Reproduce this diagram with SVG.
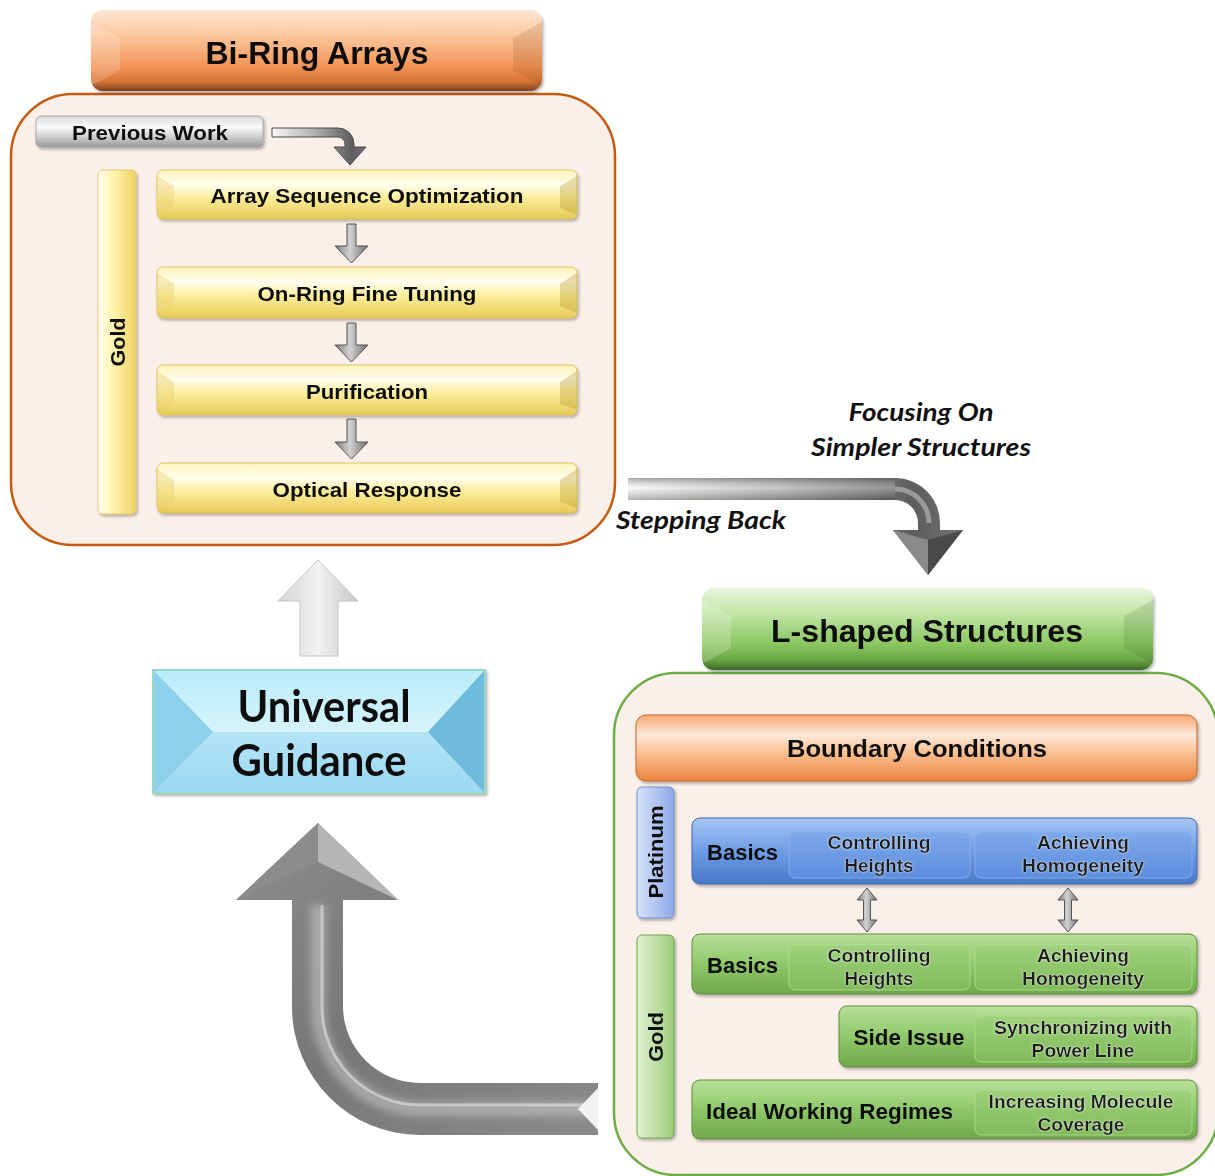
<svg xmlns="http://www.w3.org/2000/svg" width="1215" height="1176" viewBox="0 0 1215 1176">
<defs>
<style>
.t{font-family:"Liberation Sans",Arial,sans-serif;font-weight:bold;fill:#111}
.c{text-anchor:middle}
.it{font-family:Lato,"Open Sans",sans-serif;font-weight:bold;font-style:italic;fill:#111}
.big{font-family:Lato,"Open Sans",sans-serif;font-weight:bold;fill:#111}
.sub{font-family:"Liberation Sans",Arial,sans-serif;font-weight:bold;fill:#1a1a1a;text-anchor:middle}
</style>
<filter id="sh" x="-10%" y="-10%" width="120%" height="130%">
<feDropShadow dx="1.5" dy="2" stdDeviation="1.5" flood-color="#000" flood-opacity="0.3"/>
</filter>
<filter id="glow" x="-10%" y="-20%" width="120%" height="140%">
<feDropShadow dx="0" dy="0" stdDeviation="1.2" flood-color="#fff" flood-opacity="0.8"/>
</filter>
<filter id="blur4" x="-20%" y="-20%" width="140%" height="140%">
<feGaussianBlur stdDeviation="4"/>
</filter>
<linearGradient id="gYel" x1="0" y1="0" x2="0" y2="1">
<stop offset="0" stop-color="#fff3b8"/><stop offset="0.3" stop-color="#fffdf0"/><stop offset="0.55" stop-color="#fcef9f"/><stop offset="1" stop-color="#e6ca55"/>
</linearGradient>
<linearGradient id="gYelBar" x1="0" y1="0" x2="1" y2="0">
<stop offset="0" stop-color="#fffdf0"/><stop offset="0.45" stop-color="#fff2a6"/><stop offset="1" stop-color="#ecd162"/>
</linearGradient>
<linearGradient id="gOrH" x1="0" y1="0" x2="0" y2="1">
<stop offset="0" stop-color="#fde6d2"/><stop offset="0.3" stop-color="#fbc9a0"/><stop offset="0.7" stop-color="#f29456"/><stop offset="0.88" stop-color="#d77537"/><stop offset="1" stop-color="#7d4220"/>
</linearGradient>
<linearGradient id="gOrB" x1="0" y1="0" x2="0" y2="1">
<stop offset="0" stop-color="#f7a870"/><stop offset="0.3" stop-color="#fde9da"/><stop offset="0.55" stop-color="#fbc396"/><stop offset="1" stop-color="#ea843e"/>
</linearGradient>
<linearGradient id="gGrH" x1="0" y1="0" x2="0" y2="1">
<stop offset="0" stop-color="#e8f6de"/><stop offset="0.3" stop-color="#c1e6a6"/><stop offset="0.7" stop-color="#88c55e"/><stop offset="0.88" stop-color="#6aa545"/><stop offset="1" stop-color="#3a6824"/>
</linearGradient>
<linearGradient id="gGr" x1="0" y1="0" x2="0" y2="1">
<stop offset="0" stop-color="#b8e09a"/><stop offset="0.5" stop-color="#8fc86a"/><stop offset="1" stop-color="#6ea84a"/>
</linearGradient>
<linearGradient id="gGrSub" x1="0" y1="0" x2="0" y2="1">
<stop offset="0" stop-color="#9fd27c"/><stop offset="1" stop-color="#80ba5a"/>
</linearGradient>
<linearGradient id="gGrBar" x1="0" y1="0" x2="1" y2="0">
<stop offset="0" stop-color="#e0f2d2"/><stop offset="1" stop-color="#9dcc7c"/>
</linearGradient>
<linearGradient id="gBl" x1="0" y1="0" x2="0" y2="1">
<stop offset="0" stop-color="#a9c5f2"/><stop offset="0.5" stop-color="#6d9de6"/><stop offset="1" stop-color="#4a78c8"/>
</linearGradient>
<linearGradient id="gBlSub" x1="0" y1="0" x2="0" y2="1">
<stop offset="0" stop-color="#7eaaeb"/><stop offset="1" stop-color="#5c8ddd"/>
</linearGradient>
<linearGradient id="gPlBar" x1="0" y1="0" x2="1" y2="0">
<stop offset="0" stop-color="#d6e2fa"/><stop offset="1" stop-color="#8eaae6"/>
</linearGradient>
<linearGradient id="gGray" x1="0" y1="0" x2="0" y2="1">
<stop offset="0" stop-color="#d8d8d8"/><stop offset="0.35" stop-color="#fafafa"/><stop offset="0.6" stop-color="#d9d9d9"/><stop offset="1" stop-color="#9a9a9a"/>
</linearGradient>
<linearGradient id="gArrH" x1="0" y1="0" x2="1" y2="0">
<stop offset="0" stop-color="#f7f7f7"/><stop offset="0.45" stop-color="#b0b0b0"/><stop offset="0.85" stop-color="#5e5e5e"/><stop offset="1" stop-color="#707070"/>
</linearGradient>
<linearGradient id="gArrV" x1="0" y1="0" x2="0" y2="1">
<stop offset="0" stop-color="#555"/><stop offset="0.45" stop-color="#ffffff" stop-opacity="0.55"/><stop offset="1" stop-color="#333" stop-opacity="0.7"/>
</linearGradient>
<linearGradient id="gSmall" x1="0" y1="0" x2="1" y2="0">
<stop offset="0" stop-color="#7a7a7a"/><stop offset="0.45" stop-color="#d2d2d2"/><stop offset="1" stop-color="#6e6e6e"/>
</linearGradient>
<linearGradient id="gLight" x1="0" y1="0" x2="1" y2="0">
<stop offset="0" stop-color="#d4d4d4"/><stop offset="0.5" stop-color="#f2f2f2"/><stop offset="1" stop-color="#c6c6c6"/>
</linearGradient>
<linearGradient id="gBig" x1="0" y1="0" x2="1" y2="1">
<stop offset="0" stop-color="#8e8e8e"/><stop offset="0.5" stop-color="#777"/><stop offset="1" stop-color="#8a8a8a"/>
</linearGradient>
<linearGradient id="gUGtop" x1="0" y1="0" x2="0" y2="1">
<stop offset="0" stop-color="#b9ecfa"/><stop offset="1" stop-color="#d6f4fc"/>
</linearGradient>
<linearGradient id="gUGbot" x1="0" y1="0" x2="0" y2="1">
<stop offset="0" stop-color="#b4e5f7"/><stop offset="1" stop-color="#9ad8f1"/>
</linearGradient>
</defs>

<rect width="1215" height="1176" fill="#ffffff"/>

<!-- Bi-Ring Arrays container -->
<g id="biring-container">
<rect x="11" y="94" width="604" height="451" rx="62" fill="#fbefe9" stroke="#c55a11" stroke-width="2.5"/>
</g>
<g id="biring-header" filter="url(#sh)">
<rect x="91" y="10" width="451" height="81" rx="12" fill="url(#gOrH)"/>
<path d="M91,22 L120,38 L120,70 L91,86Z" fill="#fff" opacity="0.18"/>
<path d="M542,22 L513,38 L513,70 L542,86Z" fill="#7a3a10" opacity="0.15"/>
<text class="t c" x="317" y="64" font-size="31" textLength="223" lengthAdjust="spacingAndGlyphs">Bi-Ring Arrays</text>
</g>
<g id="previous-work" filter="url(#sh)">
<rect x="36" y="116" width="227" height="31" rx="5" fill="url(#gGray)" stroke="#9a9a9a" stroke-width="0.8"/>
<text class="t c" x="150" y="140" font-size="20" textLength="156" lengthAdjust="spacingAndGlyphs">Previous Work</text>
</g>
<g id="gold-bar-1" filter="url(#sh)">
<rect x="98" y="170" width="38" height="344" rx="5" fill="url(#gYelBar)" stroke="#e2c75a" stroke-width="0.8"/>
<text class="t c" transform="translate(118,342) rotate(-90)" y="7" font-size="20" textLength="49" lengthAdjust="spacingAndGlyphs">Gold</text>
</g>
<g id="array-seq" filter="url(#sh)">
<rect x="157" y="170" width="420" height="49" rx="6" fill="url(#gYel)" stroke="#d6bc52" stroke-width="0.8"/>
<path d="M157,176 L174,186 L174,208 L157,215Z" fill="#e8d070" opacity="0.45"/>
<path d="M577,176 L560,186 L560,208 L577,215Z" fill="#b89a2a" opacity="0.35"/>
<text class="t c" x="367" y="203" font-size="21" textLength="313" lengthAdjust="spacingAndGlyphs">Array Sequence Optimization</text>
</g>
<g id="on-ring" filter="url(#sh)">
<rect x="157" y="267" width="420" height="51" rx="6" fill="url(#gYel)" stroke="#d6bc52" stroke-width="0.8"/>
<path d="M157,273 L174,284 L174,306 L157,313Z" fill="#e8d070" opacity="0.45"/>
<path d="M577,273 L560,284 L560,306 L577,313Z" fill="#b89a2a" opacity="0.35"/>
<text class="t c" x="367" y="301" font-size="21" textLength="219" lengthAdjust="spacingAndGlyphs">On-Ring Fine Tuning</text>
</g>
<g id="purification" filter="url(#sh)">
<rect x="157" y="365" width="420" height="50" rx="6" fill="url(#gYel)" stroke="#d6bc52" stroke-width="0.8"/>
<path d="M157,371 L174,382 L174,404 L157,410Z" fill="#e8d070" opacity="0.45"/>
<path d="M577,371 L560,382 L560,404 L577,410Z" fill="#b89a2a" opacity="0.35"/>
<text class="t c" x="367" y="399" font-size="21" textLength="122" lengthAdjust="spacingAndGlyphs">Purification</text>
</g>
<g id="optical" filter="url(#sh)">
<rect x="157" y="463" width="420" height="50" rx="6" fill="url(#gYel)" stroke="#d6bc52" stroke-width="0.8"/>
<path d="M157,469 L174,480 L174,502 L157,508Z" fill="#e8d070" opacity="0.45"/>
<path d="M577,469 L560,480 L560,502 L577,508Z" fill="#b89a2a" opacity="0.35"/>
<text class="t c" x="367" y="497" font-size="21" textLength="189" lengthAdjust="spacingAndGlyphs">Optical Response</text>
</g>

<!-- labels -->
<g id="labels">
<text class="it c" x="921" y="421" font-size="25" textLength="145" lengthAdjust="spacingAndGlyphs">Focusing On</text>
<text class="it c" x="921" y="456" font-size="25" textLength="220" lengthAdjust="spacingAndGlyphs">Simpler Structures</text>
<text class="it" x="616" y="529" font-size="25" textLength="170" lengthAdjust="spacingAndGlyphs">Stepping Back</text>
</g>

<!-- Universal Guidance -->
<g id="universal-guidance" filter="url(#sh)">
<rect x="153" y="670" width="332" height="123" fill="#aee3f5" stroke="#98d6c6" stroke-width="2"/>
<path d="M154,671 L484,671 L428,732 L213,732Z" fill="url(#gUGtop)"/>
<path d="M154,792 L213,732 L428,732 L484,792Z" fill="url(#gUGbot)"/>
<path d="M154,671 L213,732 L154,792Z" fill="#8ed0ea"/>
<path d="M484,671 L428,732 L484,792Z" fill="#6ebbdc"/>
<text class="big c" x="324" y="722" font-size="44" textLength="173" lengthAdjust="spacingAndGlyphs">Universal</text>
<text class="big c" x="319" y="776" font-size="44" textLength="175" lengthAdjust="spacingAndGlyphs">Guidance</text>
</g>

<!-- L-shaped container -->
<g id="lshaped-container">
<rect x="614" y="673" width="604" height="502" rx="62" fill="#fbefe9" stroke="#70ad47" stroke-width="2.5"/>
</g>
<g id="lshaped-header" filter="url(#sh)">
<rect x="702" y="588" width="451" height="82" rx="12" fill="url(#gGrH)"/>
<path d="M702,600 L731,616 L731,648 L702,664Z" fill="#fff" opacity="0.2"/>
<path d="M1153,600 L1124,616 L1124,648 L1153,664Z" fill="#2f5a1a" opacity="0.15"/>
<text class="t c" x="927" y="642" font-size="31" textLength="312" lengthAdjust="spacingAndGlyphs">L-shaped Structures</text>
</g>
<g id="boundary-conditions" filter="url(#sh)">
<rect x="636" y="715" width="561" height="66" rx="10" fill="url(#gOrB)" stroke="#c8652a" stroke-width="1"/>
<text class="t c" x="917" y="757" font-size="24" textLength="260" lengthAdjust="spacingAndGlyphs">Boundary Conditions</text>
</g>
<g id="platinum-bar" filter="url(#sh)">
<rect x="637" y="787" width="37" height="131" rx="5" fill="url(#gPlBar)" stroke="#6f8fd0" stroke-width="1"/>
<text class="t c" transform="translate(656,852) rotate(-90)" y="7" font-size="20" textLength="93" lengthAdjust="spacingAndGlyphs">Platinum</text>
</g>
<g id="platinum-basics" filter="url(#sh)">
<rect x="692" y="818" width="505" height="66" rx="8" fill="url(#gBl)" stroke="#4468ad" stroke-width="1"/>
<rect x="789" y="832" width="181" height="46" rx="6" fill="url(#gBlSub)" stroke="#8fb3ee" stroke-width="0.8"/>
<rect x="975" y="832" width="217" height="46" rx="6" fill="url(#gBlSub)" stroke="#8fb3ee" stroke-width="0.8"/>
<text class="t" x="707" y="860" font-size="22" textLength="71" lengthAdjust="spacingAndGlyphs">Basics</text>
<g filter="url(#glow)">
<text class="sub" x="879" y="849" font-size="19" textLength="103" lengthAdjust="spacingAndGlyphs">Controlling</text>
<text class="sub" x="879" y="872" font-size="19" textLength="69" lengthAdjust="spacingAndGlyphs">Heights</text>
<text class="sub" x="1083" y="849" font-size="19" textLength="92" lengthAdjust="spacingAndGlyphs">Achieving</text>
<text class="sub" x="1083" y="872" font-size="19" textLength="122" lengthAdjust="spacingAndGlyphs">Homogeneity</text>
</g>
</g>
<g id="gold-bar-2" filter="url(#sh)">
<rect x="637" y="935" width="37" height="203" rx="5" fill="url(#gGrBar)" stroke="#6ea84a" stroke-width="1"/>
<text class="t c" transform="translate(656,1037) rotate(-90)" y="7" font-size="20" textLength="50" lengthAdjust="spacingAndGlyphs">Gold</text>
</g>
<g id="gold-basics" filter="url(#sh)">
<rect x="692" y="934" width="505" height="60" rx="8" fill="url(#gGr)" stroke="#5d8f3d" stroke-width="1"/>
<rect x="789" y="945" width="181" height="45" rx="6" fill="url(#gGrSub)" stroke="#b2de94" stroke-width="0.8"/>
<rect x="975" y="945" width="217" height="45" rx="6" fill="url(#gGrSub)" stroke="#b2de94" stroke-width="0.8"/>
<text class="t" x="707" y="973" font-size="22" textLength="71" lengthAdjust="spacingAndGlyphs">Basics</text>
<g filter="url(#glow)">
<text class="sub" x="879" y="962" font-size="19" textLength="103" lengthAdjust="spacingAndGlyphs">Controlling</text>
<text class="sub" x="879" y="985" font-size="19" textLength="69" lengthAdjust="spacingAndGlyphs">Heights</text>
<text class="sub" x="1083" y="962" font-size="19" textLength="92" lengthAdjust="spacingAndGlyphs">Achieving</text>
<text class="sub" x="1083" y="985" font-size="19" textLength="122" lengthAdjust="spacingAndGlyphs">Homogeneity</text>
</g>
</g>
<g id="side-issue" filter="url(#sh)">
<rect x="839" y="1006" width="358" height="61" rx="8" fill="url(#gGr)" stroke="#5d8f3d" stroke-width="1"/>
<rect x="975" y="1016" width="217" height="46" rx="6" fill="url(#gGrSub)" stroke="#b2de94" stroke-width="0.8"/>
<text class="t c" x="909" y="1045" font-size="22" textLength="111" lengthAdjust="spacingAndGlyphs">Side Issue</text>
<g filter="url(#glow)">
<text class="sub" x="1083" y="1034" font-size="19" textLength="178" lengthAdjust="spacingAndGlyphs">Synchronizing with</text>
<text class="sub" x="1083" y="1057" font-size="19" textLength="103" lengthAdjust="spacingAndGlyphs">Power Line</text>
</g>
</g>
<g id="ideal-regimes" filter="url(#sh)">
<rect x="692" y="1080" width="505" height="59" rx="8" fill="url(#gGr)" stroke="#5d8f3d" stroke-width="1"/>
<rect x="975" y="1090" width="217" height="45" rx="6" fill="url(#gGrSub)" stroke="#b2de94" stroke-width="0.8"/>
<text class="t" x="706" y="1119" font-size="22" textLength="247" lengthAdjust="spacingAndGlyphs">Ideal Working Regimes</text>
<g filter="url(#glow)">
<text class="sub" x="1081" y="1108" font-size="19" textLength="185" lengthAdjust="spacingAndGlyphs">Increasing Molecule</text>
<text class="sub" x="1081" y="1131" font-size="19" textLength="87" lengthAdjust="spacingAndGlyphs">Coverage</text>
</g>
</g>

<!-- connectors -->
<g id="connectors">
<path d="M272,128 L338,128 A16,16 0 0 1 354,144 L354,147 L366,147 L350,165 L334,147 L345,147 L345,144 A7,7 0 0 0 338,137 L272,137 Z" fill="url(#gArrH)" stroke="#4a4a4a" stroke-width="1"/>
<path d="M347,224 L356,224 L356,246 L368,246 L351.5,263 L335,246 L347,246 Z" fill="url(#gSmall)" stroke="#555" stroke-width="1"/>
<path d="M347,323 L356,323 L356,345 L368,345 L351.5,362 L335,345 L347,345 Z" fill="url(#gSmall)" stroke="#555" stroke-width="1"/>
<path d="M347,419 L356,419 L356,442 L368,442 L351.5,459 L335,442 L347,442 Z" fill="url(#gSmall)" stroke="#555" stroke-width="1"/>
<g id="stepping-back-arrow">
<path d="M628,478 L895,478 A45,45 0 0 1 940,523 L940,530 L963,530 L928,575 L893,530 L918,530 L918,523 A23,23 0 0 0 895,500 L628,500 Z" fill="url(#gArrH)"/>
<path d="M628,478 L895,478 L895,500 L628,500 Z" fill="url(#gArrV)" opacity="0.5"/>
<path d="M893,530 L928,575 L928,540 Z" fill="#8a8a8a"/>
<path d="M963,530 L928,575 L928,540 Z" fill="#4a4a4a"/>
<path d="M895,489 A34,34 0 0 1 929,523" fill="none" stroke="#c0c0c0" stroke-width="5" opacity="0.6"/>
</g>
<path d="M318,560 L358,601 L338,601 L338,656 L300,656 L300,601 L278,601 Z" fill="url(#gLight)" stroke="#c4c4c4" stroke-width="1"/>
<g id="big-return-arrow">
<path d="M318,823 L398,900 L343,900 L343,1007 A77,77 0 0 0 420,1083 L598,1083 L598,1135 L420,1135 A128,128 0 0 1 292,1007 L292,900 L236,900 Z" fill="url(#gBig)"/>
<path d="M318,905 L318,1007 A102,102 0 0 0 420,1109 L590,1109" fill="none" stroke="#e0e0e0" stroke-width="14" opacity="0.45" filter="url(#blur4)"/>
<path d="M322,905 L322,1007 A98,98 0 0 0 420,1105 L590,1105" fill="none" stroke="#eeeeee" stroke-width="3" opacity="0.5"/>
<path d="M318,823 L318,862 L398,900 Z" fill="#b5b5b5"/>
<path d="M318,823 L318,862 L236,900 Z" fill="#8c8c8c"/>
<path d="M598,1088 L578,1109 L598,1130 Z" fill="#f2f2f2"/>
</g>
<path d="M867,888 L877,900 L870.5,900 L870.5,920 L877,920 L867,932 L857,920 L863.5,920 L863.5,900 L857,900 Z" fill="url(#gSmall)" stroke="#555" stroke-width="1"/>
<path d="M1068,888 L1078,900 L1071.5,900 L1071.5,920 L1078,920 L1068,932 L1058,920 L1064.5,920 L1064.5,900 L1058,900 Z" fill="url(#gSmall)" stroke="#555" stroke-width="1"/>
</g>
</svg>
